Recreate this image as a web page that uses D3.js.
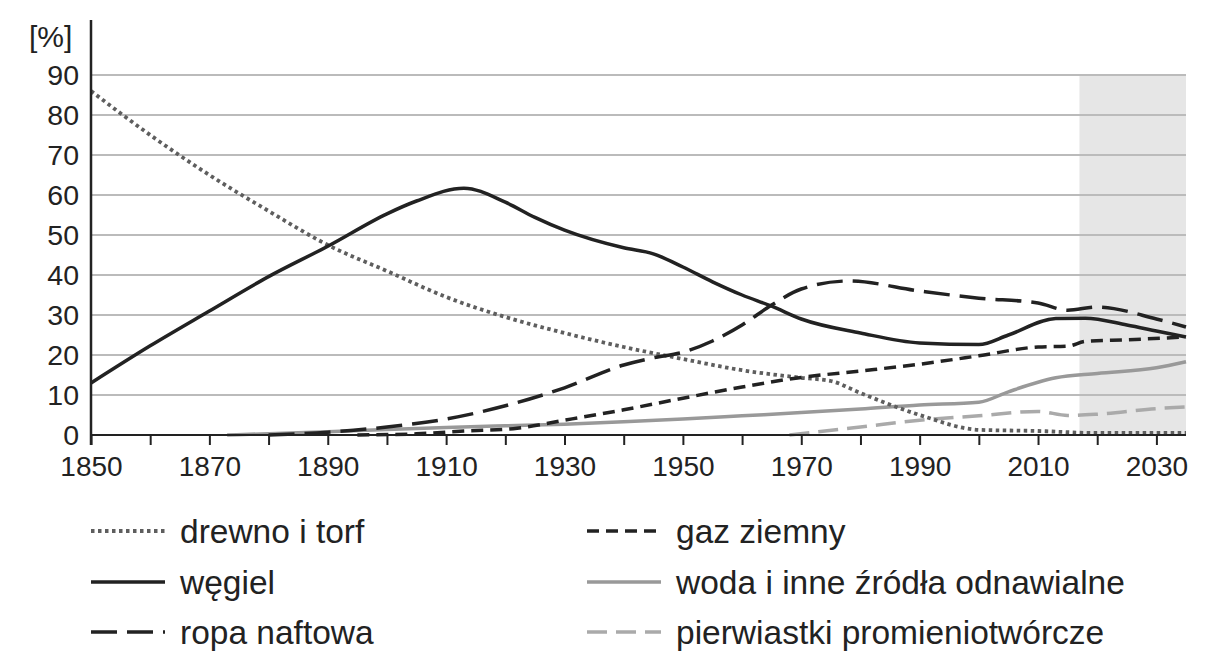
<!DOCTYPE html>
<html><head><meta charset="utf-8">
<script src="https://cdn.jsdelivr.net/npm/d3@7"></script>
<style>body{margin:0;background:#fff}svg{display:block}text{font-family:"Liberation Sans",Arial,sans-serif;fill:#222}</style>
</head><body><svg id="c" width="1218" height="665"></svg>
<script>
const xTicks = [1850,1870,1890,1910,1930,1950,1970,1990,2010,2030];
const yTicks = [0,10,20,30,40,50,60,70,80,90];
const forecastStart = 2017;

const woodYears = [1850,1860,1870,1880,1890,1900,1910,1920,1930,1940,1950,1960,1970,1975,1980,1990,2000,2010,2020,2035];
const woodVals  = [86,75,65,56,47.5,41,34.5,29.5,25.5,22,19,16.2,14.3,13.5,10.5,5,1.3,1,0.5,0.5];

const coalYears = [1850,1860,1870,1880,1890,1900,1905,1913,1920,1925,1930,1940,1945,1950,1955,1960,1965,1970,1980,1990,2000,2005,2013,2018,2025,2030,2035];
const coalVals  = [13,22.3,31,39.6,47.2,55.3,58.5,61.7,58.2,54.4,51.2,46.8,45.3,42,38.3,35,32.2,29,25.5,23,22.6,25,29.1,29.2,27.5,26,24.5];

const oilYears = [1880,1890,1900,1910,1920,1930,1940,1945,1950,1955,1960,1965,1970,1978,1990,2000,2010,2015,2020,2030,2035];
const oilVals  = [0,0.7,2,4,7.3,11.8,17.5,19.3,20.7,23.5,27.5,32.5,36.5,38.5,36,34.2,33,31.2,32,29,27];

const gasYears = [1895,1905,1913,1922,1930,1940,1950,1960,1970,1980,1990,2000,2010,2015,2018,2025,2035];
const gasVals  = [0,0.3,1,1.7,3.7,6.3,9.2,12,14.4,16,17.7,19.8,22,22.2,23.4,23.8,24.5];

const renewYears = [1873,1890,1900,1910,1920,1930,1940,1950,1960,1970,1980,1990,2000,2005,2010,2013,2020,2030,2035];
const renewVals  = [0,0.8,1.4,1.9,2.3,2.7,3.3,4,4.8,5.6,6.5,7.5,8.2,10.8,13.2,14.3,15.4,16.8,18.3];

const nuclearYears = [1968,1980,1990,2000,2010,2015,2020,2030,2035];
const nuclearVals  = [0,2,3.7,4.8,5.9,4.9,5.2,6.6,7];

const seriesNames = ["drewno i torf","węgiel","ropa naftowa","gaz ziemny","woda i inne źródła odnawialne","pierwiastki promieniotwórcze"];

const styles = [
  {color:"#5e5e5e", dash:"3.5,3.5", width:3.8},
  {color:"#222", dash:null, width:3.5},
  {color:"#222", dash:"26,10", width:3.5},
  {color:"#222", dash:"12,7", width:3.5},
  {color:"#999", dash:null, width:3.5},
  {color:"#aaa", dash:"20,9", width:3.5}
];
const series = [
  [woodYears,woodVals],[coalYears,coalVals],[oilYears,oilVals],
  [gasYears,gasVals],[renewYears,renewVals],[nuclearYears,nuclearVals]
];

const svg = d3.select("#c");
const x = d3.scaleLinear().domain([1850,2035]).range([91,1186]);
const y = d3.scaleLinear().domain([0,90]).range([435,75]);

svg.append("rect").attr("x",x(forecastStart)).attr("y",y(90))
  .attr("width",x(2035)-x(forecastStart)).attr("height",y(0)-y(90)).attr("fill","#e6e6e6");

svg.append("g").selectAll("line").data(yTicks.filter(d=>d>0)).join("line")
  .attr("x1",x(1850)).attr("x2",x(2035)).attr("y1",d=>y(d)).attr("y2",d=>y(d))
  .attr("stroke","#bbb").attr("stroke-width",2);

const line = d3.line().x(d=>x(d[0])).y(d=>y(d[1])).curve(d3.curveMonotoneX);
const order = [4,5,0,3,2,1];
order.forEach(i=>{
  const [ys,vs] = series[i];
  const pts = ys.map((yr,k)=>[yr,vs[k]]);
  svg.append("path").datum(pts).attr("d",line).attr("fill","none")
    .attr("stroke",styles[i].color).attr("stroke-width",styles[i].width)
    .attr("stroke-dasharray",styles[i].dash);
});

const xAxis = d3.axisBottom(x).tickValues(d3.range(1850,2031,10)).tickSize(10)
  .tickFormat(d=> xTicks.includes(d)? d : "");
const gx = svg.append("g").attr("transform",`translate(0,${y(0)})`).call(xAxis);
gx.select(".domain").attr("stroke","#222").attr("stroke-width",2).attr("d",`M${x(1850)},0H${x(2035)}`);
gx.selectAll(".tick line").attr("stroke","#222").attr("stroke-width",2);
gx.selectAll(".tick text").attr("font-size",28).attr("dy","0.95em").attr("y",14.5).style("fill","#222")
  .attr("font-family","Liberation Sans, Arial, sans-serif");

const yAxis = d3.axisLeft(y).tickValues(yTicks).tickSize(0).tickPadding(12);
const gy = svg.append("g").attr("transform",`translate(${x(1850)},0)`).call(yAxis);
gy.select(".domain").attr("stroke","#222").attr("stroke-width",2.5).attr("d",`M0,20V${y(0)+10}`);
gy.selectAll(".tick text").attr("font-size",28.5).style("fill","#222")
  .attr("font-family","Liberation Sans, Arial, sans-serif");

svg.append("text").attr("x",29).attr("y",47).attr("font-size",30).text("[%]");

const legX = [91,587], legY = [531,582,632];
seriesNames.forEach((name,i)=>{
  const col = Math.floor(i/3), row = i%3;
  const g = svg.append("g");
  g.append("line").attr("x1",legX[col]).attr("x2",legX[col]+74)
    .attr("y1",legY[row]).attr("y2",legY[row])
    .attr("stroke",styles[i].color).attr("stroke-width",styles[i].width)
    .attr("stroke-dasharray",styles[i].dash);
  g.append("text").attr("x",legX[col]+89).attr("y",legY[row]+12)
    .attr("font-size",33.5).text(name);
});
</script></body></html>
